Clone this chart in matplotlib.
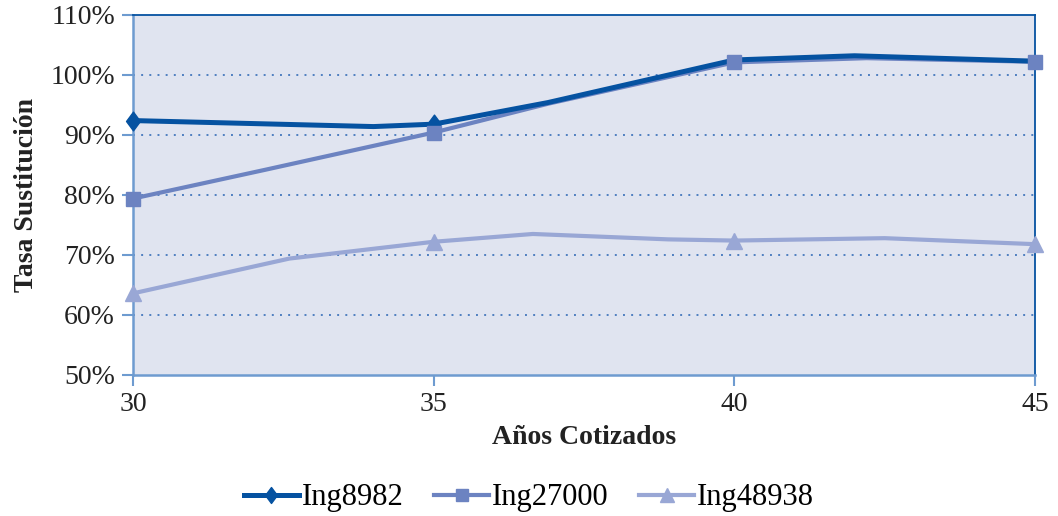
import matplotlib
matplotlib.use("Agg")
import matplotlib.pyplot as plt
from matplotlib.lines import Line2D
from matplotlib.path import Path
from matplotlib.ticker import FuncFormatter

# Replacement rate (%) by years of contributions, for three income levels
x_ing8982 = [30, 34.0, 35, 36.9, 40, 42.0, 45]
y_ing8982 = [92.4, 91.4, 91.8, 95.4, 102.5, 103.2, 102.3]

x_ing27000 = [30, 32.2, 35, 36.9, 40, 42.2, 45]
y_ing27000 = [79.4, 84.2, 90.4, 95.2, 102.1, 102.8, 102.2]

x_ing48938 = [30, 32.6, 35, 36.65, 38.9, 40, 42.5, 45]
y_ing48938 = [63.6, 69.4, 72.2, 73.5, 72.6, 72.4, 72.8, 71.8]

# Indices of the points that carry a visible marker
marks_8982 = [0, 2]
marks_27000 = [0, 2, 4, 6]
marks_48938 = [0, 2, 5, 7]

x_ticks = [30, 35, 40, 45]
y_ticks = [50, 60, 70, 80, 90, 100, 110]

c_dark = "#0552a1"
c_mid = "#6c83c1"
c_light = "#99a7d5"
c_bg = "#e0e4f0"
c_axis = "#6e9bd0"
c_grid = "#4f7fc0"
c_text = "#222222"

# Slim diamond marker
diamond = Path([(0, 1), (0.74, 0), (0, -1), (-0.74, 0), (0, 1)],
               [Path.MOVETO, Path.LINETO, Path.LINETO, Path.LINETO, Path.CLOSEPOLY])

plt.rcParams["font.family"] = ["Liberation Serif", "DejaVu Serif"]

fig = plt.figure(figsize=(10.58, 5.16), dpi=100)
ax = fig.add_axes([0.1257, 0.2733, 0.8525, 0.6977])
ax.set_facecolor(c_bg)

series = [
    (x_ing8982, y_ing8982, marks_8982, c_dark, diamond, 13.5, "Ing8982", 4, 3.6),
    (x_ing27000, y_ing27000, marks_27000, c_mid, "s", 10, "Ing27000", 3, 3.0),
    (x_ing48938, y_ing48938, marks_48938, c_light, "^", 12, "Ing48938", 3, 3.0),
]

handles = []
for k, (xs, ys, marks, col, mk, ms, lab, z, lw) in enumerate(series):
    ax.plot(xs, ys, color=col, lw=lw, solid_joinstyle="round",
            solid_capstyle="round", zorder=z, clip_on=False)
    ax.plot([xs[i] for i in marks], [ys[i] for i in marks], ls="none",
            marker=mk, ms=ms, color=col, mec=col, zorder=5 + k, clip_on=False)
    handles.append(Line2D([], [], color=col, lw=lw, marker=mk, ms=ms * 0.85,
                          mec=col, label=lab))

ax.set_xlim(30, 45)
ax.set_ylim(50, 110)
ax.set_xticks(x_ticks)
ax.set_yticks(y_ticks)
ax.yaxis.set_major_formatter(FuncFormatter(lambda v, p: f"{v:.0f}%"))

for v in y_ticks[1:-1]:
    ax.axhline(v, color=c_grid, lw=1.4, ls=(0, (1, 3.2)), zorder=1)

ax.spines["left"].set_color(c_axis)
ax.spines["bottom"].set_color(c_axis)
ax.spines["left"].set_linewidth(1.8)
ax.spines["bottom"].set_linewidth(1.8)
ax.spines["top"].set_color(c_dark)
ax.spines["right"].set_color(c_dark)
ax.spines["top"].set_linewidth(1.3)
ax.spines["right"].set_linewidth(1.3)

ax.tick_params(axis="both", direction="out", length=8, width=1.5,
               color=c_axis, labelsize=20, labelcolor=c_text)
ax.tick_params(axis="y", pad=5)
ax.tick_params(axis="x", pad=4)

ax.set_xlabel("Años Cotizados", fontsize=20, fontweight="bold",
              color=c_text, labelpad=6)
ax.set_ylabel("Tasa Sustitución", fontsize=20, fontweight="bold",
              color=c_text, labelpad=8)

fig.legend(handles=handles, loc="center", bbox_to_anchor=(0.5, 0.035),
           ncol=3, frameon=False, fontsize=22, handlelength=1.8,
           columnspacing=1.0, handletextpad=0.1)

fig.savefig("out.png", dpi=100, facecolor="white")
